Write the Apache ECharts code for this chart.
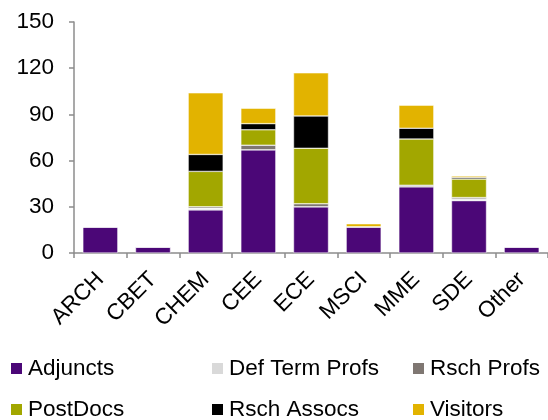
<!DOCTYPE html>
<html>
<head>
<meta charset="utf-8">
<script src="https://cdn.jsdelivr.net/npm/echarts@6/dist/echarts.min.js"></script>
<style>
  html, body { margin: 0; padding: 0; background: #fff; }
  #chart { width: 548px; height: 420px; }
</style>
</head>
<body>
<div id="chart"></div>
<script>
// Departments along the x axis
const departments = ['ARCH', 'CBET', 'CHEM', 'CEE', 'ECE', 'MSCI', 'MME', 'SDE', 'Other'];

// Headcount per appointment type, one entry per department
const adjuncts     = [17, 4, 28, 67, 30, 17, 43, 34, 4];
const defTermProfs = [0, 0, 1, 0, 0, 0, 0, 1, 0];
const rschProfs    = [0, 0, 1, 3, 2, 0, 1, 1, 0];
const postDocs     = [0, 0, 23, 10, 36, 0, 30, 12, 0];
const rschAssocs   = [0, 0, 11, 4, 21, 0, 7, 1, 0];
const visitors     = [0, 0, 40, 10, 28, 2, 15, 1, 0];

// Value axis ticks
const yTicks = [0, 30, 60, 90, 120, 150];

const FONT = '"Liberation Sans", Arial, sans-serif';
const FONT_SIZE = 22.5;
const AXIS_GRAY = '#8c8c8c';

const seriesDefs = [
  { name: 'Adjuncts',       data: adjuncts,     color: '#4b0777' },
  { name: 'Def Term Profs', data: defTermProfs, color: '#d9d9d9' },
  { name: 'Rsch Profs',     data: rschProfs,    color: '#7f7772' },
  { name: 'PostDocs',       data: postDocs,     color: '#a2a700' },
  { name: 'Rsch Assocs',    data: rschAssocs,   color: '#000000' },
  { name: 'Visitors',       data: visitors,     color: '#e2b300' }
];

// Legend laid out as a 3 x 2 grid of single-entry legends
const legendCols = [9, 210, 411];
const legendRows = [357, 398];
const legends = seriesDefs.map((s, i) => ({
  data: [s.name],
  left: legendCols[i % 3],
  top: legendRows[Math.floor(i / 3)],
  orient: 'horizontal',
  itemWidth: 13,
  itemHeight: 13,
  icon: 'rect',
  padding: 0,
  selectedMode: false,
  textStyle: { fontFamily: FONT, fontSize: FONT_SIZE, color: '#000', padding: [0, 0, 0, 0] }
}));

const chart = echarts.init(document.getElementById('chart'), null, { renderer: 'canvas' });

chart.setOption({
  animation: false,
  backgroundColor: '#fff',
  grid: { left: 74, top: 22, width: 476, height: 231, containLabel: false },
  legend: legends,
  xAxis: {
    type: 'category',
    data: departments,
    axisLine: { lineStyle: { color: AXIS_GRAY, width: 1.5 } },
    axisTick: { show: true, alignWithLabel: false, length: 5, lineStyle: { color: AXIS_GRAY, width: 1.5 } },
    axisLabel: {
      rotate: 45,
      interval: 0,
      margin: 23,
      fontFamily: FONT,
      fontSize: FONT_SIZE,
      color: '#000'
    }
  },
  yAxis: {
    type: 'value',
    min: yTicks[0],
    max: yTicks[yTicks.length - 1],
    interval: yTicks[1] - yTicks[0],
    splitLine: { show: false },
    axisLine: { show: true, lineStyle: { color: AXIS_GRAY, width: 1.5 } },
    axisTick: { show: true, length: 5, lineStyle: { color: AXIS_GRAY, width: 1.5 } },
    axisLabel: {
      margin: 20,
      fontFamily: FONT,
      fontSize: FONT_SIZE,
      color: '#000'
    }
  },
  series: seriesDefs.map(s => ({
    name: s.name,
    type: 'bar',
    stack: 'total',
    data: s.data,
    barWidth: 35,
    itemStyle: { color: s.color, borderColor: '#ffffff', borderWidth: 0.5 }
  }))
});
</script>
</body>
</html>
